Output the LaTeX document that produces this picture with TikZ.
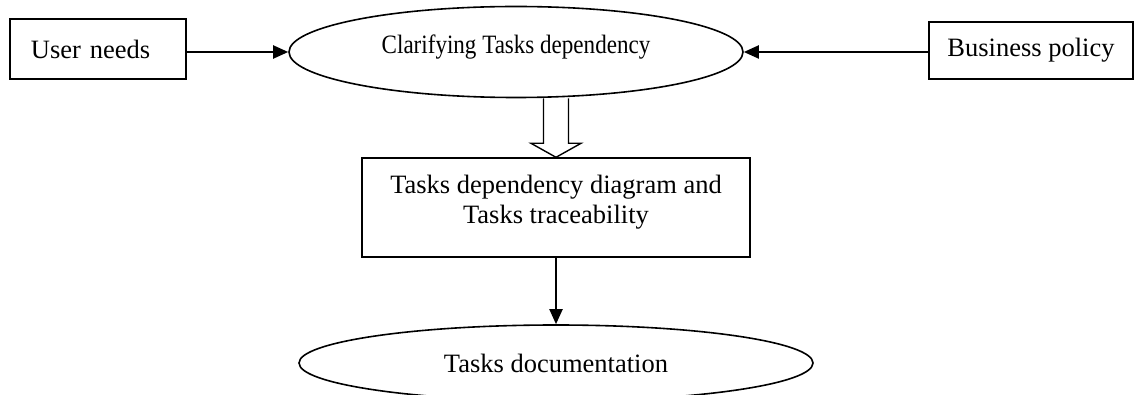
\documentclass[tikz,border=0pt]{standalone}
\usepackage{fontspec}
\setmainfont{Liberation Serif}
\usetikzlibrary{shapes.geometric,arrows.meta}

\tikzstyle{box} = [draw, rectangle, line width=0.8pt, inner sep=0pt]
\tikzstyle{oval} = [draw, ellipse, line width=0.8pt, inner sep=0pt]
\tikzstyle{line} = [line width=1pt, -{Triangle[length=7.5pt,width=6.5pt]}]

\begin{document}
\begin{tikzpicture}[x=0.5pt, y=-0.5pt, font=\fontsize{13.25}{15}\selectfont]
\useasboundingbox (0,0) rectangle (1134,395);
\clip (0,0) rectangle (1134,395);

% inputs
\node[box, minimum width=88pt, minimum height=30pt, text width=67pt, align=left] (user) at (98,49) {User needs};
\node[box, minimum width=102pt, minimum height=28.5pt] (policy) at (1031,50.5) {Business policy};

% process
\node[oval, minimum width=227pt, minimum height=45.5pt, text depth=8pt] (clar) at (516,52)
	{\scalebox{0.87}[1]{Clarifying Tasks dependency}};
\node[box, minimum width=194pt, minimum height=49.5pt, align=center, text depth=8.3pt] (diag) at (556,207.5)
	{Tasks dependency diagram and\\Tasks traceability};
\node[oval, minimum width=257pt, minimum height=38pt] (doc) at (556,363) {Tasks documentation};

\draw[line] (user.east |- clar.center) -- (clar.west);
\draw[line] (policy.west |- clar.center) -- (clar.east);

% hollow arrow
\draw[line width=0.7pt] (diag.north |- clar.south) +(-12.5,0) -- +(-12.5,45) -- +(-25,45) -- +(0,59)
	-- +(25,45) -- +(12.5,45) -- +(12.5,0);

\draw[line] (diag.south) -- (doc.north);
\end{tikzpicture}
\end{document}
